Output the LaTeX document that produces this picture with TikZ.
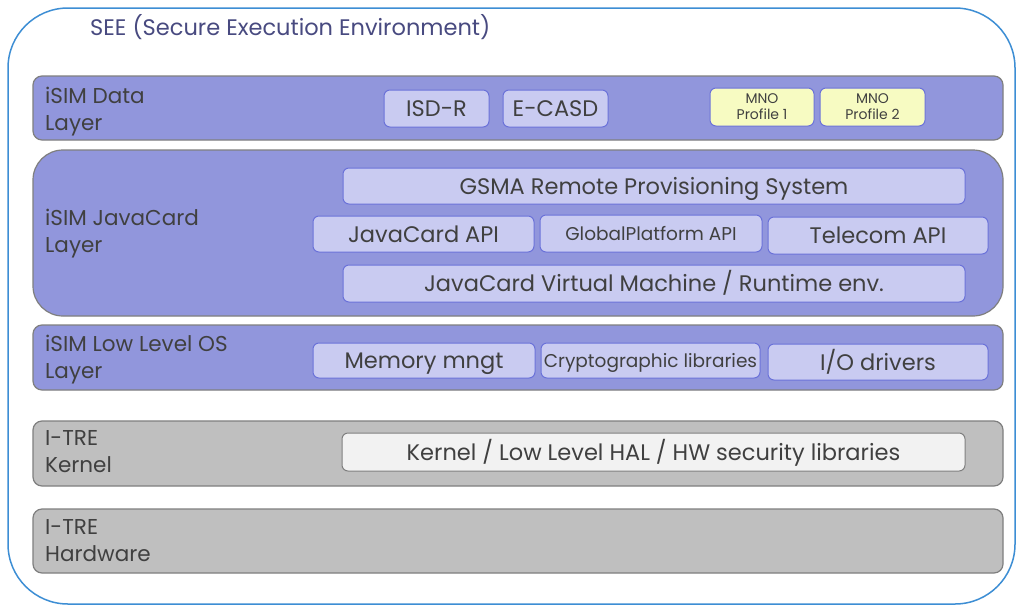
\documentclass[tikz,border=0pt]{standalone}
\usepackage{fontspec}
\setmainfont{Poppins}
\usepackage{xcolor}
\usepackage{tikz}
\usetikzlibrary{positioning}
\definecolor{seeblue}{HTML}{3D8ED4}
\definecolor{titleblue}{HTML}{484A80}
\definecolor{layerblue}{HTML}{9196DC}
\definecolor{layergray}{HTML}{7F7F7F}
\definecolor{hwgray}{HTML}{BFBFBF}
\definecolor{itemfill}{HTML}{C9CBF1}
\definecolor{itemborder}{HTML}{6B72D9}
\definecolor{profileyellow}{HTML}{F7FBC2}
\definecolor{halfill}{HTML}{F2F2F2}
\definecolor{textgray}{HTML}{404040}
\tikzstyle{seenode}=[draw=seeblue, line width=1.5pt, shape=rectangle, rounded corners=60pt, fill=white, inner sep=0pt]
\tikzstyle{layernode}=[draw=layergray, line width=1.2pt, shape=rectangle, rounded corners=9pt, fill=layerblue, inner sep=0pt]
\tikzstyle{hwnode}=[draw=layergray, line width=1.2pt, shape=rectangle, rounded corners=9pt, fill=hwgray, inner sep=0pt]
\tikzstyle{itemnode}=[draw=itemborder, line width=1pt, shape=rectangle, rounded corners=6pt, fill=itemfill, text=textgray, inner sep=0pt, text height=16.5pt, text depth=0.5pt, font=\fontsize{22.5}{26}\selectfont]
\tikzstyle{smallitem}=[text height=13.5pt, text depth=0.5pt, font=\fontsize{18.5}{22}\selectfont]
\tikzstyle{profilenode}=[draw=itemborder, line width=1pt, shape=rectangle, rounded corners=6pt, fill=profileyellow, text=textgray, inner sep=0pt, align=center, font=\fontsize{14}{16}\selectfont]
\tikzstyle{halnode}=[itemnode, draw=layergray, fill=halfill]
\tikzstyle{labelnode}=[shape=rectangle, inner sep=0pt, anchor=north west, align=left, text=textgray, font=\fontsize{21.5}{27}\selectfont]

\begin{document}
\begin{tikzpicture}[x=1pt, y=-1pt]
\useasboundingbox (0,0) rectangle (1019,608);
\node [seenode, minimum width=1007pt, minimum height=596pt] (see) at (511.5,306) {};
\node [shape=rectangle, inner sep=0pt, anchor=north west, text=titleblue, font=\fontsize{22.5}{26}\selectfont] (seetitle) at (90,14) {SEE (Secure Execution Environment)};

% layers
\node [layernode, minimum width=970pt, minimum height=64pt] (datalayer) at (518,108) {};
\node [layernode, rounded corners=30pt, minimum width=970pt, minimum height=166pt] (jclayer) at (518,233) {};
\node [layernode, minimum width=970pt, minimum height=65pt] (oslayer) at (518,357.5) {};
\node [hwnode, minimum width=970pt, minimum height=65pt] (kernellayer) at (518,453.5) {};
\node [hwnode, minimum width=970pt, minimum height=64pt] (hwlayer) at (518,541) {};

\node [labelnode] (datalabel) at (45,87) {iSIM Data\\Layer};
\node [labelnode] (jclabel) at (45,209) {iSIM JavaCard\\Layer};
\node [labelnode] (oslabel) at (45,335) {iSIM Low Level OS\\Layer};
\node [labelnode] (kernellabel) at (45,430) {I-TRE\\Kernel};
\node [labelnode] (hwlabel) at (45,519) {I-TRE\\Hardware};

% data layer
\node [itemnode, minimum width=105pt, minimum height=37pt] (isdr) at (436.5,108.5) {ISD-R};
\node [itemnode, minimum width=105pt, minimum height=37pt] (ecasd) at (555.5,108.5) {E-CASD};
\node [profilenode, minimum width=104pt, minimum height=38pt] (mno1) at (762,107) {MNO\\Profile 1};
\node [profilenode, minimum width=105pt, minimum height=38pt] (mno2) at (872.5,107) {MNO\\Profile 2};

% javacard layer
\node [itemnode, minimum width=622pt, minimum height=36pt] (gsma) at (654,186) {GSMA Remote Provisioning System};
\node [itemnode, minimum width=221pt, minimum height=36pt] (jcapi) at (423.5,234) {JavaCard API};
\node [itemnode, smallitem, minimum width=222pt, minimum height=37pt] (gpapi) at (651,233.5) {GlobalPlatform API};
\node [itemnode, minimum width=220pt, minimum height=37pt] (telapi) at (878,235.5) {Telecom API};
\node [itemnode, minimum width=622pt, minimum height=37pt] (jvm) at (654,283.5) {JavaCard Virtual Machine / Runtime env.};

% low level os layer
\node [itemnode, minimum width=222pt, minimum height=35pt] (memory) at (424,360.5) {Memory mngt};
\node [itemnode, smallitem, minimum width=219pt, minimum height=35pt] (crypto) at (650.5,360.5) {Cryptographic libraries};
\node [itemnode, minimum width=220pt, minimum height=36pt] (iodrv) at (878,362) {I/O drivers};

% kernel layer
\node [halnode, minimum width=623pt, minimum height=38pt] (hal) at (653.5,452) {Kernel / Low Level HAL / HW security libraries};
\end{tikzpicture}
\end{document}
